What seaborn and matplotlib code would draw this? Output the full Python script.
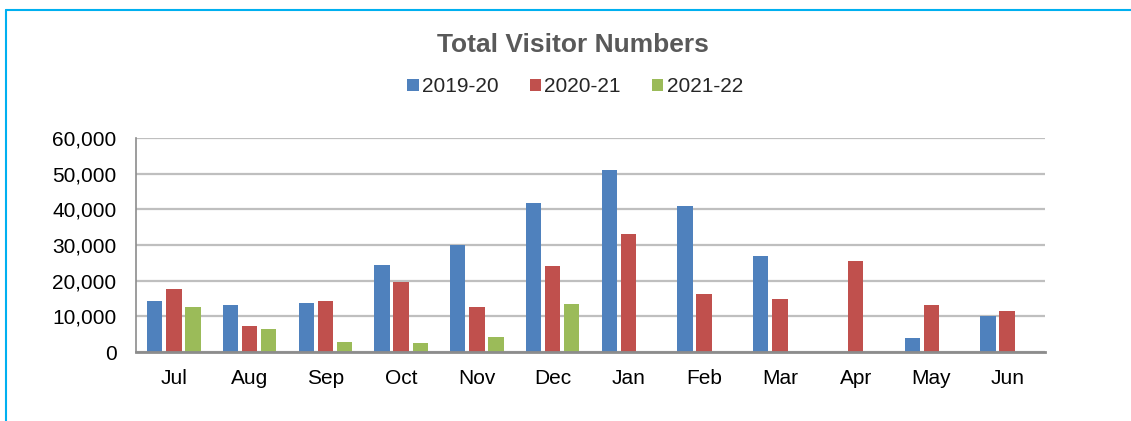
import pandas as pd
import matplotlib.pyplot as plt
import numpy as np
import seaborn as sns
from matplotlib.lines import Line2D
from matplotlib.patches import Patch
from matplotlib.ticker import FuncFormatter

# ===================== data =====================
MONTHS = ['Jul', 'Aug', 'Sep', 'Oct', 'Nov', 'Dec', 'Jan', 'Feb', 'Mar', 'Apr', 'May', 'Jun']
SEASONS = ['2019-20', '2020-21', '2021-22']

visitors_1920 = [14200, 13300, 13650, 24500, 29900, 41900, 51100, 41000, 26900, np.nan, 3850, 10200]
visitors_2021 = [17800, 7300, 14400, 19600, 12600, 24200, 33100, 16400, 14800, 25400, 13100, 11500]
visitors_2122 = [12700, 6550, 2700, 2600, 4300, 13400, np.nan, np.nan, np.nan, np.nan, np.nan, np.nan]

COLORS = ['#4F81BD', '#C0504D', '#9BBB59']

df = pd.DataFrame({
    'month': MONTHS * 3,
    'season': [s for s in SEASONS for _ in MONTHS],
    'visitors': visitors_1920 + visitors_2021 + visitors_2122,
})

# ===================== style =====================
sns.set_style('white')
plt.rcParams['font.family'] = ['Liberation Sans', 'DejaVu Sans']

fig = plt.figure(figsize=(11.31, 4.21), dpi=100)
W, H = 1131, 421
ax = fig.add_axes([136 / W, 69 / H, (1045 - 136) / W, (352 - 138) / H])

sns.barplot(data=df, x='month', y='visitors', hue='season',
            order=MONTHS, hue_order=SEASONS, palette=COLORS, saturation=1,
            width=0.76, gap=0.2, linewidth=0, ax=ax, legend=False)

ax.set_ylim(0, 60000)
ax.set_xlim(-0.5, 11.5)
ax.set_yticks(range(0, 60001, 10000))
ax.yaxis.set_major_formatter(FuncFormatter(lambda v, p: f'{int(v):,}'))
ax.set_xlabel('')
ax.set_ylabel('')

ax.grid(axis='y', color='#BFBFBF', linewidth=1.6)
ax.set_axisbelow(True)
for side in ['top', 'right']:
    ax.spines[side].set_visible(False)
ax.spines['left'].set_color('#8C8C8C')
ax.spines['left'].set_linewidth(1.2)
ax.spines['bottom'].set_color('#8C8C8C')
ax.spines['bottom'].set_linewidth(2)
ax.tick_params(axis='y', length=0, pad=14, labelsize=15, colors='black')
ax.tick_params(axis='x', length=0, pad=12, labelsize=15, colors='black')

# title
fig.text(573 / W, 1 - 45 / H, 'Total Visitor Numbers', ha='center', va='center',
         fontsize=19, fontweight='bold', color='#595959')

# legend
handles = [Patch(facecolor=c, edgecolor='none') for c in COLORS]
fig.legend(handles, SEASONS, loc='center', bbox_to_anchor=(575 / W, 1 - 87 / H),
           ncol=3, frameon=False, fontsize=15, handlelength=0.55, handleheight=0.55,
           handletextpad=0.15, columnspacing=1.5, borderpad=0)

# light blue frame (left and top)
fig.add_artist(Line2D([6 / W, 6 / W], [0, 1 - 10 / H], color='#00B0F0', linewidth=1.5))
fig.add_artist(Line2D([6 / W, 1], [1 - 10 / H, 1 - 10 / H], color='#00B0F0', linewidth=1.5))

plt.savefig('out.png', dpi=100)
